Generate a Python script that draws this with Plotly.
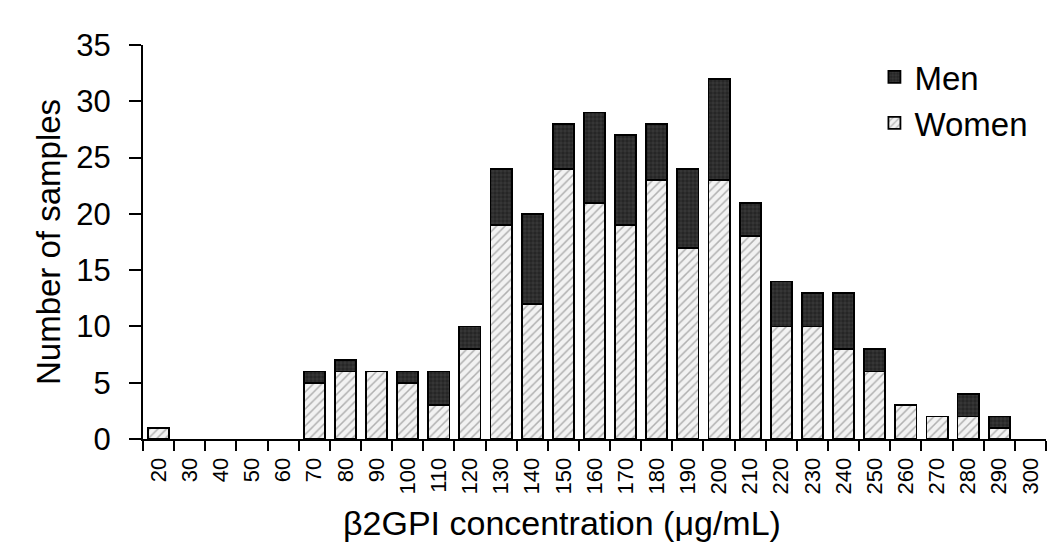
import plotly.graph_objects as go

categories = [str(v) for v in range(20, 310, 10)]
women = [1, 0, 0, 0, 0, 5, 6, 6, 5, 3, 8, 19, 12, 24, 21, 19, 23, 17, 23, 18, 10, 10, 8, 6, 3, 2, 2, 1, 0]
men = [0, 0, 0, 0, 0, 1, 1, 0, 1, 3, 2, 5, 8, 4, 8, 8, 5, 7, 9, 3, 4, 3, 5, 2, 0, 0, 2, 1, 0]
x_title = "β2GPI concentration (μg/mL)"
y_title = "Number of samples"

FONT = "Arial, Liberation Sans, sans-serif"

def nz(vals):
    return [v if v else None for v in vals]

fig = go.Figure()
fig.add_trace(go.Bar(
    x=categories, y=nz(women), name="Women",
    marker=dict(color="#f2f2f2", line=dict(color="black", width=1.8),
                pattern=dict(shape="/", fgcolor="#6e6e6e", size=6, solidity=0.25)),
))
fig.add_trace(go.Bar(
    x=categories, y=nz(men), name="Men",
    marker=dict(color="#262626", line=dict(color="black", width=1.8),
                pattern=dict(shape="+", fgcolor="#8f8f8f", size=4, solidity=0.15)),
))

fig.add_annotation(text=x_title, xref="paper", yref="paper",
                   x=(562 - 143) / 903, y=-(523 - 439) / 394,
                   xanchor="center", yanchor="middle", showarrow=False,
                   font=dict(size=34, family=FONT, color="black"))

fig.update_layout(
    barmode="stack",
    bargap=0.32,
    width=1060, height=542,
    margin=dict(l=143, r=14, t=45, b=103),
    paper_bgcolor="white", plot_bgcolor="white",
    font=dict(family=FONT, color="black"),
    legend=dict(x=0.81, y=0.99, xanchor="left", yanchor="top",
                traceorder="reversed", font=dict(size=33),
                bgcolor="rgba(0,0,0,0)", itemwidth=30, tracegroupgap=4),
    xaxis=dict(
        type="category", showline=True, linecolor="black", linewidth=2,
        ticks="outside", tickson="boundaries", ticklen=10, tickwidth=1.5, tickcolor="black",
        tickangle=-90, tickfont=dict(size=22), showgrid=False, ticklabelstandoff=8,
        range=[-0.5, 28.5],
    ),
    yaxis=dict(
        range=[0, 35], dtick=5, showline=True, linecolor="black", linewidth=2,
        ticks="outside", ticklen=12, tickwidth=1.5, tickcolor="black",
        tickfont=dict(size=31), showgrid=False, zeroline=False, ticklabelstandoff=12,
        title=dict(text=y_title, font=dict(size=33), standoff=6),
    ),
)

fig.write_html("out.html")
